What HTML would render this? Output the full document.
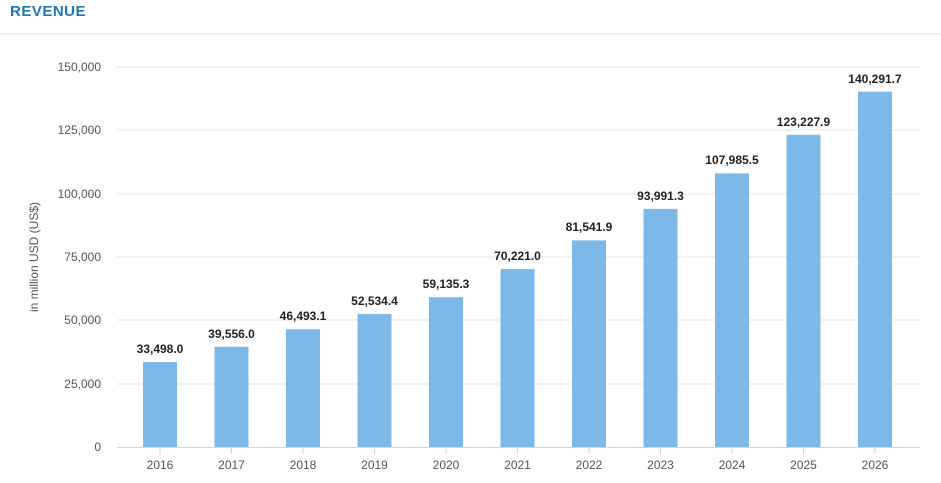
<!DOCTYPE html>
<html><head><style>body{margin:0;background:#fff}svg{display:block}</style></head><body>
<svg width="941" height="483" xmlns="http://www.w3.org/2000/svg" font-family="Liberation Sans, sans-serif">
<text x="10" y="16" fill="#1f77b4" font-size="15" font-weight="bold" letter-spacing="0.5">REVENUE</text>
<line x1="0" y1="34" x2="941" y2="34" stroke="#f0f0f0" stroke-width="2"/>
<g stroke="#e6e6e6" stroke-width="1">
<line x1="117" y1="67" x2="920" y2="67"/><line x1="117" y1="130" x2="920" y2="130"/><line x1="117" y1="194" x2="920" y2="194"/><line x1="117" y1="257" x2="920" y2="257"/><line x1="117" y1="320" x2="920" y2="320"/><line x1="117" y1="384" x2="920" y2="384"/>
</g>
<g fill="#555" font-size="12" text-anchor="end">
<text x="101" y="71">150,000</text><text x="101" y="134">125,000</text><text x="101" y="198">100,000</text><text x="101" y="261">75,000</text><text x="101" y="324">50,000</text><text x="101" y="388">25,000</text><text x="101" y="451">0</text>
</g>
<text transform="translate(38,257) rotate(-90)" fill="#555" font-size="12" text-anchor="middle">in million USD (US$)</text>
<g fill="#7cb9e8">
<rect x="143" y="362.1" width="34" height="84.9"/>
<rect x="214.5" y="346.8" width="34" height="100.2"/>
<rect x="286" y="329.2" width="34" height="117.8"/>
<rect x="357.5" y="313.9" width="34" height="133.1"/>
<rect x="429" y="297.2" width="34" height="149.8"/>
<rect x="500.5" y="269.1" width="34" height="177.9"/>
<rect x="572" y="240.4" width="34" height="206.6"/>
<rect x="643.5" y="208.9" width="34" height="238.1"/>
<rect x="715" y="173.4" width="34" height="273.6"/>
<rect x="786.5" y="134.8" width="34" height="312.2"/>
<rect x="858" y="91.6" width="34" height="355.4"/>
</g>
<line x1="117" y1="447.5" x2="920" y2="447.5" stroke="#ccd6eb"/>
<g stroke="#ccd6eb">
<line x1="160" y1="448" x2="160" y2="454"/><line x1="231.5" y1="448" x2="231.5" y2="454"/><line x1="303" y1="448" x2="303" y2="454"/><line x1="374.5" y1="448" x2="374.5" y2="454"/><line x1="446" y1="448" x2="446" y2="454"/><line x1="517.5" y1="448" x2="517.5" y2="454"/><line x1="589" y1="448" x2="589" y2="454"/><line x1="660.5" y1="448" x2="660.5" y2="454"/><line x1="732" y1="448" x2="732" y2="454"/><line x1="803.5" y1="448" x2="803.5" y2="454"/><line x1="875" y1="448" x2="875" y2="454"/>
</g>
<g text-anchor="middle" font-size="12" font-weight="bold" fill="#222">
<text x="160" y="353">33,498.0</text>
<text x="231.5" y="338">39,556.0</text>
<text x="303" y="320">46,493.1</text>
<text x="374.5" y="305">52,534.4</text>
<text x="446" y="288">59,135.3</text>
<text x="517.5" y="260">70,221.0</text>
<text x="589" y="231">81,541.9</text>
<text x="660.5" y="200">93,991.3</text>
<text x="732" y="164">107,985.5</text>
<text x="803.5" y="126">123,227.9</text>
<text x="875" y="83">140,291.7</text>
</g>
<g text-anchor="middle" font-size="12" fill="#555">
<text x="160" y="469">2016</text><text x="231.5" y="469">2017</text><text x="303" y="469">2018</text><text x="374.5" y="469">2019</text><text x="446" y="469">2020</text><text x="517.5" y="469">2021</text><text x="589" y="469">2022</text><text x="660.5" y="469">2023</text><text x="732" y="469">2024</text><text x="803.5" y="469">2025</text><text x="875" y="469">2026</text>
</g>
</svg>
</body></html>
